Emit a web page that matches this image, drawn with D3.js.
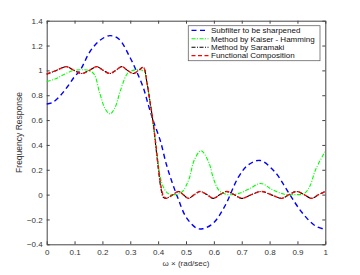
<!DOCTYPE html>
<html>
<head>
<meta charset="utf-8">
<script src="https://cdn.jsdelivr.net/npm/d3@7"></script>
<style>
  body { margin: 0; background: #fff; }
  svg { display: block; font-family: "Liberation Sans", Arial, sans-serif; }
  .tick text { fill: #333; font-size: 8px; }
</style>
</head>
<body>
<svg id="chart" width="360" height="275"></svg>
<script>
// valores (frequencia normalizada -> resposta)
const xTicks = [0, 0.1, 0.2, 0.3, 0.4, 0.5, 0.6, 0.7, 0.8, 0.9, 1];
const yTicks = [-0.4, -0.2, 0, 0.2, 0.4, 0.6, 0.8, 1, 1.2, 1.4];

const blueW = [0, 0.02, 0.05, 0.075, 0.1, 0.12, 0.155, 0.19, 0.227, 0.26, 0.3, 0.323, 0.347, 0.365, 0.383, 0.407, 0.43, 0.45, 0.473, 0.5, 0.538, 0.56, 0.598, 0.64, 0.688, 0.724, 0.766, 0.82, 0.867, 0.915, 0.963, 1];
const blueH = [0.73, 0.74, 0.80, 0.87, 0.95, 1.0, 1.15, 1.24, 1.28, 1.25, 1.10, 0.99, 0.86, 0.72, 0.59, 0.44, 0.24, 0.10, -0.04, -0.18, -0.27, -0.275, -0.23, -0.09, 0.14, 0.24, 0.275, 0.18, 0.02, -0.14, -0.25, -0.28];

const greenW = [0, 0.03, 0.06, 0.095, 0.12, 0.15, 0.17, 0.19, 0.21, 0.227, 0.245, 0.265, 0.29, 0.31, 0.335, 0.35, 0.36, 0.371, 0.383, 0.395, 0.407, 0.419, 0.435, 0.46, 0.485, 0.51, 0.53, 0.554, 0.58, 0.60, 0.62, 0.65, 0.69, 0.73, 0.768, 0.81, 0.85, 0.89, 0.925, 0.945, 0.965, 1];
const greenH = [0.91, 0.93, 0.965, 0.998, 1.005, 1.0, 0.97, 0.82, 0.69, 0.65, 0.70, 0.84, 0.975, 1.0, 1.005, 0.99, 0.90, 0.74, 0.56, 0.35, 0.15, 0.06, 0.01, 0.0, 0.02, 0.12, 0.28, 0.353, 0.27, 0.12, 0.03, 0.0, 0.01, 0.05, 0.09, 0.04, 0.005, 0.0, 0.01, 0.07, 0.20, 0.35];

const blackW = [0, 0.035, 0.07, 0.098, 0.126, 0.153, 0.18, 0.203, 0.227, 0.248, 0.27, 0.29, 0.311, 0.33, 0.347, 0.36, 0.37, 0.38, 0.39, 0.40, 0.41, 0.418, 0.427, 0.45, 0.473, 0.49, 0.508, 0.53, 0.55, 0.575, 0.598, 0.622, 0.646, 0.673, 0.70, 0.735, 0.77, 0.805, 0.843, 0.87, 0.897, 0.924, 0.951, 0.976, 1];
const blackH = [0.97, 1.0, 1.03, 1.0, 0.975, 1.0, 1.03, 1.0, 0.975, 1.0, 1.03, 1.0, 0.975, 1.0, 1.025, 0.90, 0.76, 0.61, 0.42, 0.22, 0.05, -0.02, -0.03, -0.005, 0.025, 0.0, -0.03, 0.0, 0.025, 0.0, -0.03, 0.0, 0.025, 0.0, -0.03, 0.0, 0.025, 0.0, -0.03, 0.0, 0.025, 0.0, -0.03, 0.0, 0.025];

const redW = [0, 0.035, 0.07, 0.098, 0.126, 0.153, 0.18, 0.203, 0.227, 0.248, 0.27, 0.29, 0.311, 0.33, 0.347, 0.36, 0.37, 0.38, 0.39, 0.40, 0.41, 0.42, 0.43, 0.45, 0.473, 0.49, 0.508, 0.53, 0.55, 0.575, 0.598, 0.622, 0.646, 0.673, 0.70, 0.735, 0.77, 0.805, 0.843, 0.87, 0.897, 0.924, 0.951, 0.976, 1];
const redH = [0.97, 1.0, 1.03, 1.0, 0.975, 1.0, 1.03, 1.0, 0.975, 1.0, 1.03, 1.0, 0.975, 1.0, 1.025, 0.90, 0.76, 0.62, 0.44, 0.24, 0.07, -0.015, -0.03, -0.005, 0.025, 0.0, -0.03, 0.0, 0.025, 0.0, -0.03, 0.0, 0.025, 0.0, -0.03, 0.0, 0.025, 0.0, -0.03, 0.0, 0.025, 0.0, -0.03, 0.0, 0.025];

const seriesNames = ["Subfilter to be sharpened", "Method by Kaiser - Hamming", "Method by Saramaki", "Functional Composition"];

const series = [
  { name: seriesNames[0], w: blueW, h: blueH, color: "#0000ff", dash: "5,3.5", width: 1.4 },
  { name: seriesNames[1], w: greenW, h: greenH, color: "#00ff00", dash: "4,1.5,1,1.5", width: 1.1 },
  { name: seriesNames[2], w: blackW, h: blackH, color: "#000000", dash: "4,1.5,1,1.5", width: 1.1 },
  { name: seriesNames[3], w: redW, h: redH, color: "#ff0000", dash: "4,2.5", width: 1.3 }
];

const svg = d3.select("#chart");
const plotLeft = 46.7, plotRight = 325.3, plotTop = 20.7, plotBottom = 244.3;

const x = d3.scaleLinear().domain([0, 1]).range([plotLeft, plotRight]);
const y = d3.scaleLinear().domain([-0.4, 1.4]).range([plotBottom, plotTop]);

// caixa do eixo
svg.append("rect")
  .attr("x", plotLeft).attr("y", plotTop)
  .attr("width", plotRight - plotLeft).attr("height", plotBottom - plotTop)
  .attr("fill", "#fff");

const axisColor = "#444";

svg.append("g")
  .attr("transform", `translate(0,${plotBottom})`)
  .call(d3.axisBottom(x).tickValues(xTicks).tickSizeInner(-3).tickSizeOuter(0).tickPadding(5).tickFormat(d3.format("")));

svg.append("g")
  .attr("transform", `translate(${plotLeft},0)`)
  .call(d3.axisLeft(y).tickValues(yTicks).tickSizeInner(-3).tickSizeOuter(0).tickPadding(4).tickFormat(d3.format("")));

svg.append("g")
  .attr("transform", `translate(0,${plotTop})`)
  .call(d3.axisTop(x).tickValues(xTicks).tickSizeInner(-3).tickSizeOuter(0).tickFormat(""));

svg.append("g")
  .attr("transform", `translate(${plotRight},0)`)
  .call(d3.axisRight(y).tickValues(yTicks).tickSizeInner(-3).tickSizeOuter(0).tickFormat(""));

svg.selectAll(".domain").attr("stroke", axisColor);
svg.selectAll(".tick line").attr("stroke", axisColor);

// curvas
const line = d3.line()
  .x(d => x(d[0]))
  .y(d => y(d[1]))
  .curve(d3.curveCatmullRom.alpha(0.5));

series.forEach(s => {
  const pts = s.w.map((w, i) => [w, s.h[i]]);
  svg.append("path")
    .datum(pts)
    .attr("fill", "none")
    .attr("stroke", s.color)
    .attr("stroke-width", s.width)
    .attr("stroke-dasharray", s.dash)
    .attr("d", line);
});

// rotulos dos eixos
svg.append("text")
  .attr("x", (plotLeft + plotRight) / 2)
  .attr("y", 266)
  .attr("text-anchor", "middle")
  .attr("font-size", 8)
  .attr("fill", "#333")
  .text("ω × (rad/sec)");

svg.append("text")
  .attr("transform", `translate(22,${(plotTop + plotBottom) / 2}) rotate(-90)`)
  .attr("text-anchor", "middle")
  .attr("font-size", 8.5)
  .attr("fill", "#333")
  .text("Frequency Response");

// legenda
const legend = svg.append("g");
legend.append("rect")
  .attr("x", 188.3).attr("y", 25.7)
  .attr("width", 131.7).attr("height", 35)
  .attr("fill", "#fff")
  .attr("stroke", "#666")
  .attr("stroke-width", 0.8);

series.forEach((s, i) => {
  const ly = 30.4 + i * 8.4;
  legend.append("line")
    .attr("x1", 191.5).attr("x2", 208.5)
    .attr("y1", ly).attr("y2", ly)
    .attr("stroke", s.color)
    .attr("stroke-width", s.width)
    .attr("stroke-dasharray", s.dash);
  legend.append("text")
    .attr("x", 211)
    .attr("y", ly + 2.8)
    .attr("font-size", 8)
    .attr("fill", "#111")
    .text(s.name);
});
</script>
</body>
</html>
